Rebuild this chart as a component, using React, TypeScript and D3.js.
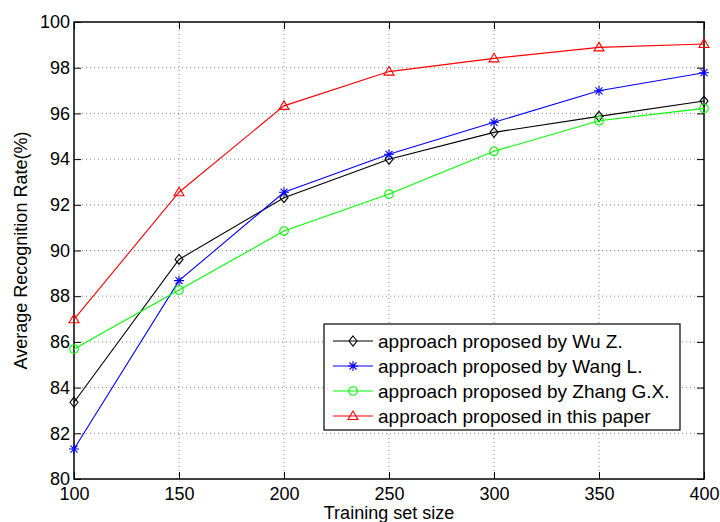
import React, { useEffect, useRef } from 'react';
import * as d3 from 'd3';

const width = 720;
const height = 522;
const margin = { top: 22, right: 16, bottom: 43, left: 74 };
const plotW = width - margin.left - margin.right;
const plotH = height - margin.top - margin.bottom;

const trainingSizes = [100, 150, 200, 250, 300, 350, 400];
const wuZ = [83.36, 89.61, 92.31, 93.99, 95.17, 95.87, 96.54];
const wangL = [81.31, 88.68, 92.55, 94.21, 95.61, 96.99, 97.78];
const zhangGX = [85.69, 88.27, 90.85, 92.47, 94.34, 95.68, 96.22];
const thisPaper = [86.99, 92.55, 96.33, 97.83, 98.41, 98.89, 99.04];

const xTicks = [100, 150, 200, 250, 300, 350, 400];
const yTicks = [80, 82, 84, 86, 88, 90, 92, 94, 96, 98, 100];

const seriesNames = [
  'approach proposed by Wu Z.',
  'approach proposed by Wang L.',
  'approach proposed by Zhang G.X.',
  'approach proposed in this paper',
];
const seriesValues = [wuZ, wangL, zhangGX, thisPaper];
const seriesColors = ['#000000', '#0000ff', '#00ff00', '#ff0000'];
const seriesMarkers = ['diamond', 'star', 'circle', 'triangle'];

const markerPath: Record<string, string> = {
  diamond: 'M0,-5L4,0L0,5L-4,0Z',
  star: 'M-5,0L5,0M0,-5L0,5M-3.5,-3.5L3.5,3.5M-3.5,3.5L3.5,-3.5',
  circle: d3.arc()({ innerRadius: 0, outerRadius: 4.3, startAngle: 0, endAngle: 2 * Math.PI } as any) || '',
  triangle: 'M0,-5L5,3.5L-5,3.5Z',
};

const font = '"Liberation Sans", Arial, Helvetica, sans-serif';

export default function App() {
  const gRef = useRef<SVGGElement>(null);

  useEffect(() => {
    const x = d3.scaleLinear().domain([100, 400]).range([0, plotW]);
    const y = d3.scaleLinear().domain([80, 100]).range([plotH, 0]);

    const g = d3.select(gRef.current);
    g.selectAll('*').remove();

    // grid
    const grid = g.append('g').attr('stroke', '#8a8a8a').attr('stroke-dasharray', '1,3').attr('stroke-width', 1);
    grid
      .selectAll('line.gx')
      .data(xTicks.slice(1, -1))
      .join('line')
      .attr('x1', (d) => x(d))
      .attr('x2', (d) => x(d))
      .attr('y1', 0)
      .attr('y2', plotH);
    grid
      .selectAll('line.gy')
      .data(yTicks.slice(1, -1))
      .join('line')
      .attr('x1', 0)
      .attr('x2', plotW)
      .attr('y1', (d) => y(d))
      .attr('y2', (d) => y(d));

    // axes with inward ticks
    const styleAxis = (sel: any, labels: boolean) => {
      sel.select('.domain').remove();
      sel.selectAll('.tick line').attr('stroke', '#000').attr('stroke-width', 1);
      sel.selectAll('.tick text').attr('font-size', 18).attr('font-family', font).attr('fill', '#000');
      if (!labels) sel.selectAll('.tick text').remove();
    };
    g.append('g')
      .attr('transform', `translate(0,${plotH})`)
      .call(d3.axisBottom(x).tickValues(xTicks).tickSizeInner(-7).tickSizeOuter(0).tickPadding(8))
      .call((s) => styleAxis(s, true));
    g.append('g')
      .call(d3.axisTop(x).tickValues(xTicks).tickSizeInner(-7).tickSizeOuter(0))
      .call((s) => styleAxis(s, false));
    g.append('g')
      .call(d3.axisLeft(y).tickValues(yTicks).tickSizeInner(-7).tickSizeOuter(0).tickPadding(4))
      .call((s) => styleAxis(s, true));
    g.append('g')
      .attr('transform', `translate(${plotW},0)`)
      .call(d3.axisRight(y).tickValues(yTicks).tickSizeInner(-7).tickSizeOuter(0))
      .call((s) => styleAxis(s, false));

    // box
    g.append('rect')
      .attr('width', plotW)
      .attr('height', plotH)
      .attr('fill', 'none')
      .attr('stroke', '#000')
      .attr('stroke-width', 1.5);

    // series
    const line = d3
      .line<number>()
      .x((_, i) => x(trainingSizes[i]))
      .y((d) => y(d));
    seriesValues.forEach((vals, si) => {
      const sg = g.append('g');
      sg.append('path')
        .attr('d', line(vals))
        .attr('fill', 'none')
        .attr('stroke', seriesColors[si])
        .attr('stroke-width', 1.1);
      sg.selectAll('path.m')
        .data(vals)
        .join('path')
        .attr('class', 'm')
        .attr('transform', (d, i) => `translate(${x(trainingSizes[i])},${y(d)})`)
        .attr('d', markerPath[seriesMarkers[si]])
        .attr('fill', 'none')
        .attr('stroke', seriesColors[si])
        .attr('stroke-width', 1.1);
    });

    // legend
    const lg = g.append('g').attr('transform', `translate(${324 - margin.left},${324 - margin.top})`);
    lg.append('rect')
      .attr('width', 356)
      .attr('height', 106)
      .attr('fill', '#fff')
      .attr('stroke', '#000')
      .attr('stroke-width', 1.2);
    seriesNames.forEach((name, i) => {
      const row = lg.append('g').attr('transform', `translate(0,${17 + i * 25})`);
      row.append('line')
        .attr('x1', 9)
        .attr('x2', 49)
        .attr('stroke', seriesColors[i])
        .attr('stroke-width', 1.1);
      row.append('path')
        .attr('transform', 'translate(29,0)')
        .attr('d', markerPath[seriesMarkers[i]])
        .attr('fill', 'none')
        .attr('stroke', seriesColors[i])
        .attr('stroke-width', 1.1);
      row.append('text')
        .attr('x', 54)
        .attr('dy', '0.35em')
        .attr('font-size', 19)
        .attr('font-family', font)
        .text(name);
    });

    // axis titles
    g.append('text')
      .attr('x', plotW / 2)
      .attr('y', plotH + 40)
      .attr('text-anchor', 'middle')
      .attr('font-size', 18)
      .attr('font-family', font)
      .text('Training set size');
    g.append('text')
      .attr('transform', `translate(${27 - margin.left},${plotH / 2}) rotate(-90)`)
      .attr('text-anchor', 'middle')
      .attr('font-size', 18)
      .attr('font-family', font)
      .text('Average Recognition Rate(%)');
  }, []);

  return (
    <svg
      width={width}
      height={height}
      style={{ position: 'absolute', left: 0, top: 0, background: '#fff' }}
    >
      <g ref={gRef} transform={`translate(${margin.left},${margin.top})`} />
    </svg>
  );
}
